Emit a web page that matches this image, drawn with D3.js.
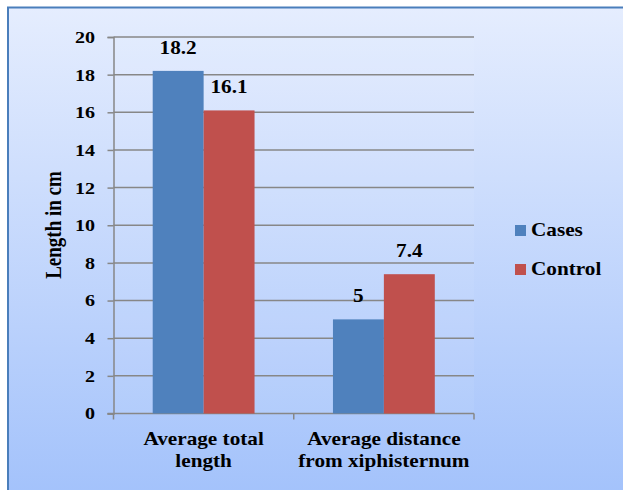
<!DOCTYPE html>
<html>
<head>
<meta charset="utf-8">
<script src="https://cdn.jsdelivr.net/npm/d3@7"></script>
</head>
<body style="margin:0;padding:0;background:#fff;">
<svg id="chart" width="623" height="490" style="display:block;" font-family="Liberation Serif" font-weight="bold"></svg>
<script>
// Chart data
const categories = [["Average total", "length"], ["Average distance", "from xiphisternum"]];
const seriesNames = ["Cases", "Control"];
const casesValues = [18.2, 5];
const controlValues = [16.1, 7.4];
const yTicks = [0, 2, 4, 6, 8, 10, 12, 14, 16, 18, 20];
const seriesColors = ["#4f81bd", "#c0504d"];

const svg = d3.select("#chart");
const W = 623, H = 490;
const STRETCH = 1.18; // wide lettering

function styleText(sel, size) {
  return sel.attr("font-family", "Liberation Serif").attr("font-weight", "bold")
    .attr("font-size", size).attr("fill", "#000");
}
// place text at (x, y), widened horizontally around its anchor
function placeAt(sel, fx, fy) {
  return sel.attr("x", 0).attr("y", 0)
    .attr("transform", (d, i) => `translate(${fx(d, i)},${fy(d, i)}) scale(${STRETCH},1)`);
}

// Background gradient panel with border
const defs = svg.append("defs");
const grad = defs.append("linearGradient").attr("id", "bg").attr("x1", 0).attr("y1", 0).attr("x2", 0).attr("y2", 1);
grad.append("stop").attr("offset", "0%").attr("stop-color", "#e5edfe");
grad.append("stop").attr("offset", "100%").attr("stop-color", "#a3c2fb");

svg.append("rect").attr("x", 8).attr("y", 7.5).attr("width", W).attr("height", H)
  .attr("fill", "url(#bg)").attr("stroke", "#4a7ebb").attr("stroke-width", 2);

const plot = { left: 113.5, right: 474, top: 37, bottom: 413.5 };

const x0 = d3.scaleBand().domain(d3.range(categories.length))
  .range([plot.left, plot.right]).paddingInner(0).paddingOuter(0);
const x1 = d3.scaleBand().domain(d3.range(seriesNames.length))
  .range([0, x0.bandwidth()]).paddingOuter(0.77).paddingInner(0);
const y = d3.scaleLinear().domain([0, 20]).range([plot.bottom, plot.top]);

// Plot area tint
svg.append("rect").attr("x", plot.left).attr("y", plot.top)
  .attr("width", plot.right - plot.left).attr("height", plot.bottom - plot.top)
  .attr("fill", "#ffffff").attr("fill-opacity", 0.06);

// Gridlines
svg.append("g").selectAll("line").data(yTicks.filter(d => d > 0)).join("line")
  .attr("x1", plot.left).attr("x2", plot.right)
  .attr("y1", d => y(d)).attr("y2", d => y(d))
  .attr("stroke", "#878787").attr("stroke-width", 1.5);

// Y axis
const yAxis = svg.append("g").attr("transform", `translate(${plot.left},0)`)
  .call(d3.axisLeft(y).tickValues(yTicks).tickSize(6).tickPadding(12));
yAxis.attr("font-family", "Liberation Serif").attr("font-size", 17);
yAxis.select(".domain").attr("stroke", "#878787").attr("stroke-width", 1.5);
yAxis.selectAll(".tick line").attr("stroke", "#878787").attr("stroke-width", 1.5);
styleText(yAxis.selectAll(".tick text"), 17)
  .attr("x", 0).attr("dy", "0.32em")
  .attr("transform", `translate(-18.5,0) scale(${STRETCH},1)`);

// X axis
const xAxis = svg.append("g").attr("transform", `translate(0,${plot.bottom})`);
xAxis.append("line").attr("x1", plot.left - 6).attr("x2", plot.right)
  .attr("y1", 0).attr("y2", 0).attr("stroke", "#878787").attr("stroke-width", 1.5);
const xTickPos = [plot.left, ...d3.range(categories.length).map(i => x0(i) + x0.bandwidth())];
xAxis.selectAll("line.tk").data(xTickPos).join("line").attr("class", "tk")
  .attr("x1", d => d).attr("x2", d => d).attr("y1", 0).attr("y2", 6)
  .attr("stroke", "#878787").attr("stroke-width", 1.5);

// Category labels
const catLabels = placeAt(styleText(svg.append("g").selectAll("text").data(categories).join("text"), 18),
  (d, i) => x0(i) + x0.bandwidth() / 2, () => 445).attr("text-anchor", "middle");
catLabels.each(function(d) {
  const t = d3.select(this);
  d.forEach((line, k) => t.append("tspan").attr("x", 0).attr("dy", k === 0 ? 0 : 22).text(line));
});

// Bars
const rows = categories.map((c, i) => [casesValues[i], controlValues[i]]);
const groups = svg.append("g").selectAll("g").data(rows).join("g")
  .attr("transform", (d, i) => `translate(${x0(i)},0)`);
groups.selectAll("rect").data(d => d).join("rect")
  .attr("x", (d, j) => x1(j)).attr("width", x1.bandwidth())
  .attr("y", d => y(d)).attr("height", d => y(0) - y(d))
  .attr("fill", (d, j) => seriesColors[j]);
placeAt(styleText(groups.selectAll("text").data(d => d).join("text"), 18),
  (d, j) => x1(j) + x1.bandwidth() / 2, d => y(d) - 17)
  .attr("text-anchor", "middle")
  .text(d => d);

// Y title
styleText(svg.append("text"), 19).attr("transform", `translate(61,225) rotate(-90) scale(1,${STRETCH})`)
  .attr("text-anchor", "middle").text("Length in cm");

// Legend
const legend = svg.append("g").selectAll("g").data(seriesNames).join("g")
  .attr("transform", (d, i) => `translate(515,${225 + i * 39})`);
legend.append("rect").attr("width", 11).attr("height", 11).attr("fill", (d, i) => seriesColors[i]);
placeAt(styleText(legend.append("text"), 18), () => 16, () => 11).text(d => d);
</script>
</body>
</html>
